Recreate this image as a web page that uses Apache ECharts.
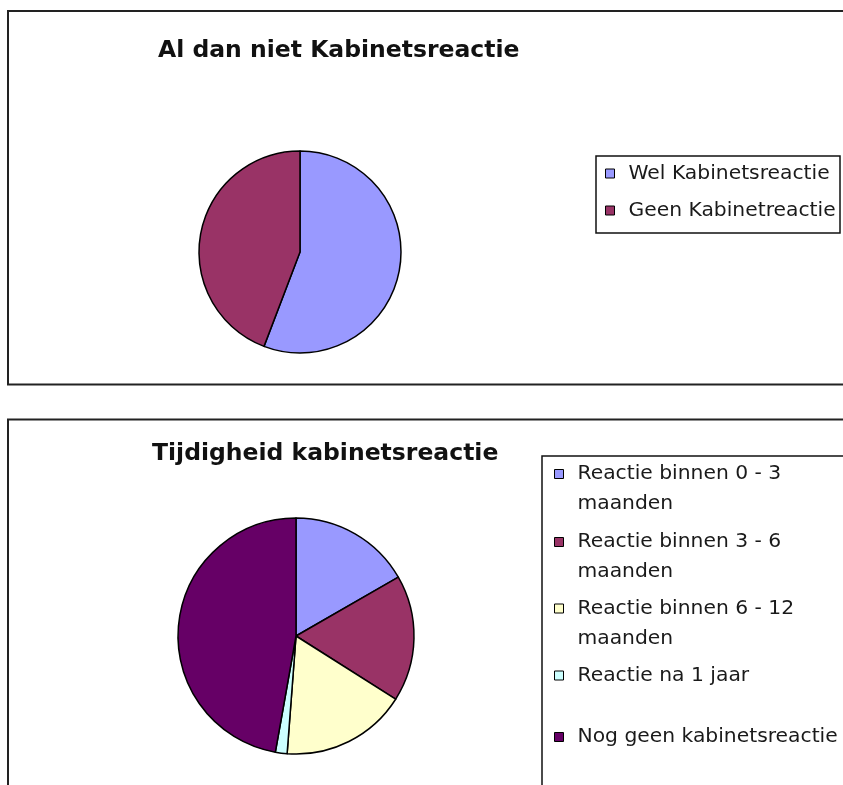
<!DOCTYPE html>
<html>
<head>
<meta charset="utf-8">
<title>Kabinetsreactie</title>
<script src="https://cdn.jsdelivr.net/npm/echarts@6/dist/echarts.min.js"></script>
<style>
  html, body { margin: 0; padding: 0; background: #fff; }
  #chart { width: 843px; height: 785px; }
</style>
</head>
<body>
<div id="chart"></div>
<script>
// Chart 1: Al dan niet Kabinetsreactie
const reactieNames = ['Wel Kabinetsreactie', 'Geen Kabinetreactie']
const reactieValues = [55.8, 44.2]
const reactieColors = ['#9999ff', '#993366']

// Chart 2: Tijdigheid kabinetsreactie
const tijdNames = [
  'Reactie binnen 0 - 3 maanden',
  'Reactie binnen 3 - 6 maanden',
  'Reactie binnen 6 - 12 maanden',
  'Reactie na 1 jaar',
  'Nog geen kabinetsreactie',
]
const tijdValues = [16.7, 17.3, 17.2, 1.6, 47.2]
const tijdColors = ['#9999ff', '#993366', '#ffffcc', '#ccffff', '#660066']

const FONT = 'DejaVu Sans'
const LINE = 30

// one legend per entry so each can sit where the original put it
function legendItem(name, left, y) {
  const twoLines = name.indexOf(' maanden') > 0
  return {
    data: [name],
    left: left,
    top: twoLines ? y - 1.5 * LINE : y - LINE / 2,
    padding: 0,
    orient: 'vertical',
    itemWidth: 9,
    itemHeight: 9,
    selectedMode: false,
    icon: 'rect',
    itemStyle: { borderColor: '#000', borderWidth: 1 },
    // legend text is centred on the icon: a blank top line keeps
    // the first real line level with the marker
    formatter: n => n.indexOf(' maanden') > 0 ? '\n' + n.replace(' maanden', '\nmaanden') : n,
    textStyle: {
      fontFamily: FONT,
      fontSize: 20.3,
      color: '#1a1a1a',
      lineHeight: LINE,
      padding: [0, 0, 0, 9],
    },
  }
}

function pieData(names, values, colors) {
  return names.map((name, i) => ({ name, value: values[i], itemStyle: { color: colors[i] } }))
}

const pieBase = {
  type: 'pie',
  startAngle: 90,
  clockwise: true,
  animation: false,
  silent: true,
  label: { show: false },
  labelLine: { show: false },
  emphasis: { disabled: true },
  itemStyle: { borderColor: '#000', borderWidth: 1.5 },
}

const option = {
  backgroundColor: '#fff',
  animation: false,
  title: [
    {
      text: 'Al dan niet Kabinetsreactie',
      left: 158, top: 39, padding: 0,
      textStyle: { fontFamily: FONT, fontSize: 23.5, fontWeight: 'bold', color: '#111' },
    },
    {
      text: 'Tijdigheid kabinetsreactie',
      left: 152, top: 442, padding: 0,
      textStyle: { fontFamily: FONT, fontSize: 23.5, fontWeight: 'bold', color: '#111' },
    },
  ],
  legend: [
    legendItem(reactieNames[0], 605, 173.5),
    legendItem(reactieNames[1], 605, 210.5),
    legendItem(tijdNames[0], 554, 474),
    legendItem(tijdNames[1], 554, 542),
    legendItem(tijdNames[2], 554, 608.5),
    legendItem(tijdNames[3], 554, 675.5),
    legendItem(tijdNames[4], 554, 737),
  ],
  graphic: [
    { type: 'rect', shape: { x: 8, y: 11, width: 900, height: 373.5 }, style: { fill: 'none', stroke: '#222', lineWidth: 2 } },
    { type: 'rect', shape: { x: 8, y: 419.5, width: 900, height: 500 }, style: { fill: 'none', stroke: '#222', lineWidth: 2 } },
    { type: 'rect', shape: { x: 596, y: 156, width: 244, height: 77 }, style: { fill: 'none', stroke: '#111', lineWidth: 1.5 } },
    { type: 'rect', shape: { x: 542, y: 456, width: 400, height: 400 }, style: { fill: 'none', stroke: '#111', lineWidth: 1.5 } },
  ],
  series: [
    { ...pieBase, name: 'Al dan niet Kabinetsreactie', center: [300, 252], radius: 101,
      data: pieData(reactieNames, reactieValues, reactieColors) },
    { ...pieBase, name: 'Tijdigheid kabinetsreactie', center: [296, 636], radius: 118,
      data: pieData(tijdNames, tijdValues, tijdColors) },
  ],
}

const chart = echarts.init(document.getElementById('chart'))
chart.setOption(option)
</script>
</body>
</html>
